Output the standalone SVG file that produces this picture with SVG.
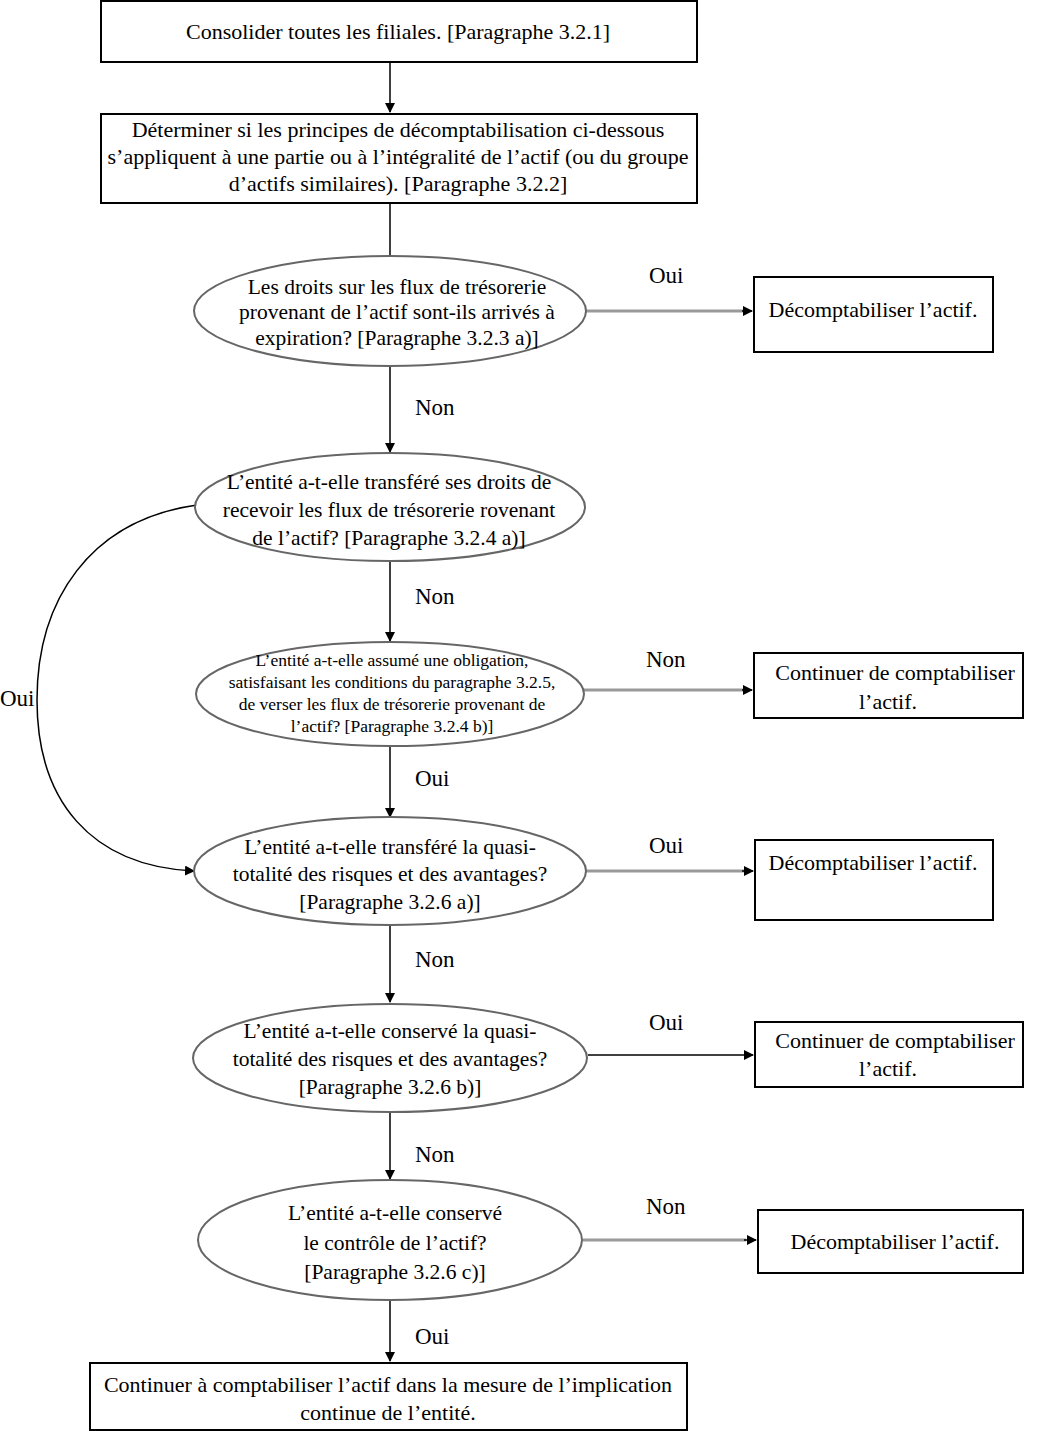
<svg xmlns="http://www.w3.org/2000/svg" width="1040" height="1431" viewBox="0 0 1040 1431">
<defs>
<marker id="ah" viewBox="0 0 10 10" refX="9" refY="5" markerWidth="10" markerHeight="10" markerUnits="userSpaceOnUse" orient="auto">
<path d="M0,0 L10,5 L0,10 z" fill="#000"/>
</marker>
</defs>
<style>
text{font-family:"Liberation Serif","Times New Roman",serif;font-size:22px;fill:#000;text-anchor:middle}
.e{font-size:21.5px}
.sm{font-size:17.5px}
.lbl{text-anchor:start;font-size:23px}
rect{fill:#fff;stroke:#000;stroke-width:2}
ellipse{fill:#fff;stroke:#666;stroke-width:2}
.c{fill:none;stroke:#000;stroke-width:1.5}
.g{fill:none;stroke:#999;stroke-width:3}
</style>
<rect x="0" y="0" width="1040" height="1431" style="stroke:none"/>
<g id="connectors">
<line class="c" x1="390" y1="62" x2="390" y2="112" marker-end="url(#ah)"/>
<line class="c" x1="390" y1="203" x2="390" y2="256"/>
<line class="g" x1="585" y1="311" x2="744" y2="311"/>
<line class="c" x1="742" y1="311" x2="752" y2="311" marker-end="url(#ah)"/>
<line class="c" x1="390" y1="366" x2="390" y2="452" marker-end="url(#ah)"/>
<line class="c" x1="390" y1="561" x2="390" y2="641" marker-end="url(#ah)"/>
<line class="g" x1="583" y1="690" x2="744" y2="690"/>
<line class="c" x1="742" y1="690" x2="752" y2="690" marker-end="url(#ah)"/>
<line class="c" x1="390" y1="746" x2="390" y2="817" marker-end="url(#ah)"/>
<path class="c" d="M197,505 C90,520 37,600 37,700 C37,800 90,866 194,871" marker-end="url(#ah)"/>
<line class="g" x1="585" y1="871" x2="744" y2="871"/>
<line class="c" x1="742" y1="871" x2="753" y2="871" marker-end="url(#ah)"/>
<line class="c" x1="390" y1="925" x2="390" y2="1002" marker-end="url(#ah)"/>
<line class="c" x1="588" y1="1055" x2="753" y2="1055" marker-end="url(#ah)"/>
<line class="c" x1="390" y1="1112" x2="390" y2="1179" marker-end="url(#ah)"/>
<line class="g" x1="583" y1="1240" x2="746" y2="1240"/>
<line class="c" x1="744" y1="1240" x2="756" y2="1240" marker-end="url(#ah)"/>
<line class="c" x1="390" y1="1300" x2="390" y2="1361" marker-end="url(#ah)"/>
<text class="lbl" x="649" y="283">Oui</text>
<text class="lbl" x="415" y="415">Non</text>
<text class="lbl" x="415" y="604">Non</text>
<text class="lbl" x="646" y="667">Non</text>
<text class="lbl" x="415" y="786">Oui</text>
<text class="lbl" x="0" y="706">Oui</text>
<text class="lbl" x="649" y="853">Oui</text>
<text class="lbl" x="415" y="967">Non</text>
<text class="lbl" x="649" y="1030">Oui</text>
<text class="lbl" x="415" y="1162">Non</text>
<text class="lbl" x="646" y="1214">Non</text>
<text class="lbl" x="415" y="1344">Oui</text>
</g>
<g id="n1">
<rect x="101" y="1" width="596" height="61"/>
<text x="398" y="39">Consolider toutes les filiales. [Paragraphe 3.2.1]</text>
</g>
<g id="n2">
<rect x="101" y="114" width="596" height="89"/>
<text x="398" y="137">Déterminer si les principes de décomptabilisation ci-dessous</text>
<text x="398" y="164">s’appliquent à une partie ou à l’intégralité de l’actif (ou du groupe</text>
<text x="398" y="191">d’actifs similaires). [Paragraphe 3.2.2]</text>
</g>
<g id="n3">
<ellipse cx="390" cy="311" rx="196" ry="55"/>
<text class="e" x="397" y="294">Les droits sur les flux de trésorerie</text>
<text class="e" x="397" y="319">provenant de l’actif sont-ils arrivés à</text>
<text class="e" x="397" y="345">expiration? [Paragraphe 3.2.3 a)]</text>
</g>
<g id="n4">
<rect x="754" y="277" width="239" height="75"/>
<text x="873" y="317">Décomptabiliser l’actif.</text>
</g>
<g id="n5">
<ellipse cx="390" cy="507" rx="195" ry="54"/>
<text class="e" x="389" y="489">L’entité a-t-elle transféré ses droits de</text>
<text class="e" x="389" y="517">recevoir les flux de trésorerie rovenant</text>
<text class="e" x="389" y="545">de l’actif? [Paragraphe 3.2.4 a)]</text>
</g>
<g id="n6">
<ellipse cx="390" cy="694" rx="194" ry="52"/>
<text class="sm" x="392" y="666">L’entité a-t-elle assumé une obligation,</text>
<text class="sm" x="392" y="688">satisfaisant les conditions du paragraphe 3.2.5,</text>
<text class="sm" x="392" y="710">de verser les flux de trésorerie provenant de</text>
<text class="sm" x="392" y="732">l’actif? [Paragraphe 3.2.4 b)]</text>
</g>
<g id="n7">
<rect x="754" y="653" width="269" height="65"/>
<text x="895" y="680">Continuer de comptabiliser</text>
<text x="888" y="709">l’actif.</text>
</g>
<g id="n8">
<ellipse cx="390" cy="871" rx="196" ry="54"/>
<text class="e" x="390" y="854">L’entité a-t-elle transféré la quasi-</text>
<text class="e" x="390" y="881">totalité des risques et des avantages?</text>
<text class="e" x="390" y="909">[Paragraphe 3.2.6 a)]</text>
</g>
<g id="n9">
<rect x="755" y="840" width="238" height="80"/>
<text x="873" y="870">Décomptabiliser l’actif.</text>
</g>
<g id="n10">
<ellipse cx="390" cy="1058" rx="197" ry="54"/>
<text class="e" x="390" y="1038">L’entité a-t-elle conservé la quasi-</text>
<text class="e" x="390" y="1066">totalité des risques et des avantages?</text>
<text class="e" x="390" y="1094">[Paragraphe 3.2.6 b)]</text>
</g>
<g id="n11">
<rect x="755" y="1022" width="268" height="65"/>
<text x="895" y="1048">Continuer de comptabiliser</text>
<text x="888" y="1076">l’actif.</text>
</g>
<g id="n12">
<ellipse cx="390" cy="1240" rx="192" ry="60"/>
<text class="e" x="395" y="1220">L’entité a-t-elle conservé</text>
<text class="e" x="395" y="1250">le contrôle de l’actif?</text>
<text class="e" x="395" y="1279">[Paragraphe 3.2.6 c)]</text>
</g>
<g id="n13">
<rect x="758" y="1210" width="265" height="63"/>
<text x="895" y="1249">Décomptabiliser l’actif.</text>
</g>
<g id="n14">
<rect x="90" y="1363" width="597" height="67"/>
<text x="388" y="1392">Continuer à comptabiliser l’actif dans la mesure de l’implication</text>
<text x="388" y="1420">continue de l’entité.</text>
</g>
</svg>
